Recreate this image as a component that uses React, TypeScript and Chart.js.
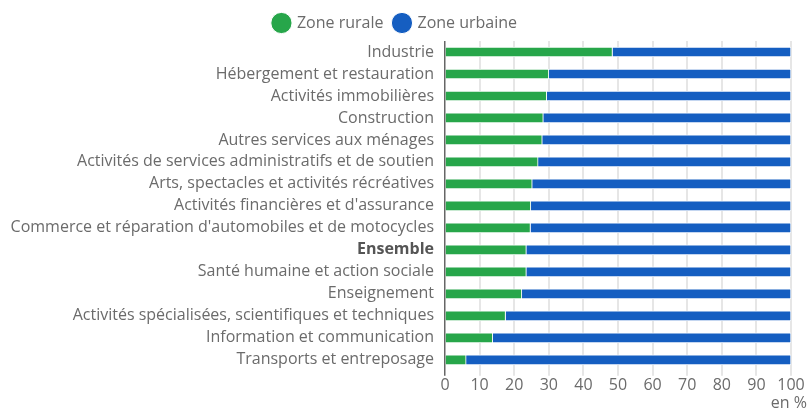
import React, { useEffect, useRef } from "react";
import { Chart, registerables } from "chart.js";

Chart.register(...registerables);

const categories = [
  "Industrie",
  "Hébergement et restauration",
  "Activités immobilières",
  "Construction",
  "Autres services aux ménages",
  "Activités de services administratifs et de soutien",
  "Arts, spectacles et activités récréatives",
  "Activités financières et d'assurance",
  "Commerce et réparation d'automobiles et de motocycles",
  "Ensemble",
  "Santé humaine et action sociale",
  "Enseignement",
  "Activités spécialisées, scientifiques et techniques",
  "Information et communication",
  "Transports et entreposage",
];

const rurale = [48.4, 30.0, 29.4, 28.4, 28.1, 26.9, 25.2, 24.8, 24.7, 23.5, 23.5, 22.2, 17.5, 13.8, 6.1];
const urbaine = rurale.map((v) => Math.round((100 - v) * 10) / 10);

const xTicks = [0, 10, 20, 30, 40, 50, 60, 70, 80, 90, 100];
const seriesNames = ["Zone rurale", "Zone urbaine"];
const unitLabel = "en %";

const FONT = "'Open Sans', sans-serif";
const TEXT = "#6b6b6b";

export default function App() {
  const ref = useRef<HTMLCanvasElement | null>(null);

  useEffect(() => {
    document.body.style.margin = "0";
    if (!ref.current) return;
    const unitPlugin = {
      id: "unitLabel",
      afterDraw(chart: any) {
        const { ctx, chartArea } = chart;
        ctx.save();
        ctx.font = `16px ${FONT}`;
        ctx.fillStyle = TEXT;
        ctx.textAlign = "right";
        ctx.textBaseline = "alphabetic";
        ctx.fillText(unitLabel, chartArea.right + 16, chart.height - 1);
        ctx.restore();
      },
    };
    const chart = new Chart(ref.current, {
      type: "bar",
      data: {
        labels: categories,
        datasets: [
          {
            label: seriesNames[0],
            data: rurale,
            backgroundColor: "#27a64a",
            borderColor: "#ffffff",
            borderWidth: 1,
            barThickness: 10,
          },
          {
            label: seriesNames[1],
            data: urbaine,
            backgroundColor: "#155ec1",
            borderColor: "#ffffff",
            borderWidth: 1,
            barThickness: 10,
          },
        ],
      },
      options: {
        indexAxis: "y",
        animation: false,
        responsive: true,
        maintainAspectRatio: false,
        layout: { padding: { left: 0, right: 16, top: 4, bottom: 14 } },
        plugins: {
          legend: {
            position: "top",
            labels: {
              usePointStyle: true,
              pointStyle: "circle",
              boxWidth: 15,
              boxHeight: 15,
              color: TEXT,
              font: { family: FONT, size: 16 },
              padding: 11,
            },
          },
          tooltip: { enabled: false },
        },
        scales: {
          x: {
            stacked: true,
            min: 0,
            max: 100,
            afterBuildTicks: (scale: any) => {
              scale.ticks = xTicks.map((v) => ({ value: v }));
            },
            border: { display: false },
            grid: {
              color: (c: any) => (c.index === 0 ? "#666666" : "#e6e6e6"),
              lineWidth: (c: any) => (c.index === 0 ? 1.5 : 2),
              tickLength: 5,
            },
            ticks: {
              color: TEXT,
              font: { family: FONT, size: 16 },
              padding: 0,
            },
          },
          y: {
            stacked: true,
            border: { display: false },
            grid: { display: false },
            afterFit: (scale: any) => {
              scale.width = 445;
            },
            ticks: {
              color: (c: any) => (categories[c.index] === "Ensemble" ? "#555555" : TEXT),
              font: (c: any) => ({
                family: FONT,
                size: 16,
                weight: categories[c.index] === "Ensemble" ? "bold" : "normal",
              }),
              padding: 3,
              autoSkip: false,
            },
          },
        },
      },
      plugins: [unitPlugin],
    } as any);
    return () => chart.destroy();
  }, []);

  return (
    <div style={{ width: 807, height: 409, position: "relative" }}>
      <canvas ref={ref} />
    </div>
  );
}
